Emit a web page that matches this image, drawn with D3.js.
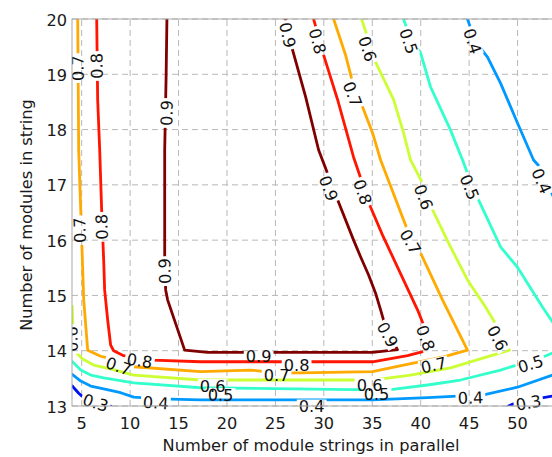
<!DOCTYPE html>
<html><head><meta charset="utf-8">
<script src="https://cdn.jsdelivr.net/npm/d3@7"></script>
<style>
body{margin:0;background:#fff;overflow:hidden}
svg{display:block}
text{font-family:"DejaVu Sans",sans-serif}
</style>
</head><body>
<svg id="c" width="552" height="457"></svg>
<script>
// ---------- data ----------
const levels = [0.3, 0.4, 0.5, 0.6, 0.7, 0.8, 0.9];
const levelColors = ["#0010f0", "#0099ff", "#33ffcc", "#ccff33", "#ffaa00", "#ff1500", "#800000"];
const xTicks = [5, 10, 15, 20, 25, 30, 35, 40, 45, 50];
const yTicks = [13, 14, 15, 16, 17, 18, 19, 20];
const xTitle = "Number of module strings in parallel";
const yTitle = "Number of modules in string";

// contour lines: [strings in parallel, modules in string]
const contour03 = [
  [[4.05,13.36],[4.14,13.34],[4.69,13.23],[5.41,13.12],[6.44,13.06],[7.48,13.03],[7.99,13.0]],
  [[49.07,13.0],[49.79,13.06],[51.34,13.11],[53.6,13.18],[54.5,13.21]]
];
const contour04 = [
  [[4.05,13.57],[4.9,13.45],[5.93,13.36],[7.27,13.31],[9.02,13.24],[10.37,13.16],[13.15,13.13],[17.28,13.11],[35.03,13.11],[40.71,13.15],[43.8,13.18],[46.49,13.20],[49.99,13.34],[53.61,13.56],[54.5,13.62]],
  [[44.83,20],[45.6,19.6],[46.9,19.31],[48.24,18.84],[49.99,18.12],[51.65,17.45],[52.37,17.31],[53.61,16.82],[54.5,16.5]]
];
const contour05 = [
  [[4.05,13.80],[4.9,13.65],[5.93,13.56],[7.27,13.51],[10.37,13.42],[17.28,13.33],[35.03,13.29],[36.7,13.29],[40.71,13.38],[44.11,13.47],[48.24,13.65],[52.68,13.89],[53.61,13.96],[54.5,14.05]],
  [[38.23,20],[39.0,19.6],[39.98,19.39],[41.02,18.77],[43.08,17.99],[44.32,17.45],[44.83,17.21],[45.97,16.73],[48.24,15.88],[49.99,15.51],[52.57,14.79],[53.61,14.52],[54.5,14.3]]
];
const contour06 = [
  [[4.02,14.80],[4.08,14.5],[4.12,14.1],[4.48,13.96],[5.1,13.85],[6.24,13.74],[7.99,13.67],[10.37,13.56],[17.28,13.47],[35.03,13.47],[38.95,13.56],[43.08,13.69],[49.17,14.01],[47.93,14.43],[46.69,14.79],[44.83,15.28],[42.87,15.95],[41.22,16.55],[40.19,17.03],[38.95,17.45],[38.23,17.94],[37.20,18.54],[35.34,19.22],[33.9,20]]
];
const contour07 = [
  [[4.59,20],[4.69,17.63],[4.90,16.55],[5.21,14.92],[5.62,14.01],[6.96,13.90],[7.68,13.87],[10.37,13.71],[17.28,13.62],[22.44,13.65],[25,13.60],[27.6,13.60],[35.03,13.62],[38.23,13.74],[42.36,13.89],[44.83,14.01],[42.25,14.92],[39.98,15.77],[38.64,16.18],[35.86,17.45],[35.03,17.94],[34.0,18.41],[32.86,18.93],[32.24,19.35],[31.01,20]]
];
const contour08 = [
  [[6.55,20],[6.65,18.54],[6.86,17.63],[7.06,16.55],[7.27,15.64],[7.37,15.10],[7.68,14.56],[7.99,14.10],[8.3,14.0],[9.33,13.91],[12.33,13.83],[17.28,13.80],[27.6,13.80],[35.03,13.80],[38.64,13.91],[41.22,14.03],[40.5,14.38],[39.67,14.74],[36.06,16.09],[34.82,16.60],[33.07,17.50],[31.42,18.54],[29.97,19.35],[28.94,20]]
];
const contour09 = [
  [[13.80,20],[13.72,19.0],[13.67,18.54],[13.57,17.63],[13.57,15.64],[13.67,15.10],[13.87,14.92],[15.63,14.01],[18.0,13.97],[27.6,13.97],[35.03,13.97],[37.6,14.02],[36.4,14.41],[35.86,14.74],[35.34,15.04],[34.62,15.37],[33.79,15.70],[33.07,16.0],[31.42,16.73],[29.46,17.63],[28.12,18.59],[26.77,19.44],[26.05,20]]
];

// inline label positions (centre of the text)
const labels03 = [[6.44,13.06],[51.13,13.06]];
const labels04 = [[12.64,13.06],[28.74,12.99],[45.14,13.15],[45.35,19.60],[52.47,17.07]];
const labels05 = [[19.34,13.20],[35.44,13.22],[51.34,13.76],[45.04,16.96],[38.75,19.60]];
const labels06 = [[3.97,14.21],[18.52,13.36],[34.72,13.38],[47.93,14.23],[40.29,16.78],[34.51,19.46]];
const labels07 = [[4.59,19.11],[4.79,16.18],[8.82,13.72],[25.12,13.56],[41.33,13.74],[38.95,15.97],[32.97,18.64]];
const labels08 = [[6.55,19.15],[7.06,16.24],[10.99,13.82],[27.19,13.74],[40.5,14.23],[34.0,16.87],[29.35,19.60]];
const labels09 = [[13.77,18.30],[13.57,15.44],[23.27,13.90],[26.26,19.71],[30.49,16.94],[36.58,14.29]];

const contours = [contour03, contour04, contour05, contour06, contour07, contour08, contour09];
const labelSets = [labels03, labels04, labels05, labels06, labels07, labels08, labels09];

// ---------- drawing ----------
const FS = 16.2;
const svg = d3.select("#c");
const x = d3.scaleLinear().domain([4, 55]).range([72, 566]);
const y = d3.scaleLinear().domain([13, 20]).range([406, 19]);
const X0 = x(4), X1 = x(55), Y0 = y(13), Y1 = y(20);

const defs = svg.append("defs");
defs.append("clipPath").attr("id", "plotclip").append("rect")
  .attr("x", X0).attr("y", Y1).attr("width", X1 - X0).attr("height", Y0 - Y1);
defs.append("clipPath").attr("id", "labelclip").append("rect")
  .attr("x", X0).attr("y", 0).attr("width", X1 - X0).attr("height", 457);

// grid
const grid = svg.append("g").attr("stroke", "#b8b8b8").attr("stroke-width", 1).attr("stroke-dasharray", "6,4").attr("fill", "none");
xTicks.forEach(t => grid.append("line").attr("x1", x(t)).attr("x2", x(t)).attr("y1", Y0).attr("y2", Y1));
yTicks.forEach(t => grid.append("line").attr("x1", X0).attr("x2", X1).attr("y1", y(t)).attr("y2", y(t)));

function normAngle(a) { while (a > 85) a -= 180; while (a <= -95) a += 180; return a; }
function angleAt(px, py, pieces) {
  let best = Infinity, ang = 0;
  pieces.forEach(p => {
    for (let i = 0; i < p.length - 1; i++) {
      const ax = x(p[i][0]), ay = y(p[i][1]), bx = x(p[i+1][0]), by = y(p[i+1][1]);
      const dx = bx - ax, dy = by - ay, L2 = dx*dx + dy*dy || 1;
      let t = ((px - ax)*dx + (py - ay)*dy) / L2; t = Math.max(0, Math.min(1, t));
      const qx = ax + t*dx, qy = ay + t*dy, d = (px-qx)**2 + (py-qy)**2;
      if (d < best) { best = d; ang = Math.atan2(dy, dx) * 180 / Math.PI; }
    }
  });
  return normAngle(ang);
}

// measure label width
const meas = svg.append("text").attr("font-size", FS).text("0.9");
const tw = meas.node().getComputedTextLength();
meas.remove();

const line = d3.line().x(d => x(d[0])).y(d => y(d[1]));
const gLines = svg.append("g").attr("clip-path", "url(#plotclip)");
const gLabels = svg.append("g").attr("clip-path", "url(#labelclip)");

levels.forEach((lv, i) => {
  const pieces = contours[i];
  const labs = labelSets[i].map(d => {
    const px = x(d[0]), py = y(d[1]);
    return { px, py, a: angleAt(px, py, pieces) };
  });
  const mask = defs.append("mask").attr("id", "m" + i).attr("maskUnits", "userSpaceOnUse")
    .attr("x", 0).attr("y", 0).attr("width", 620).attr("height", 457);
  mask.append("rect").attr("x", 0).attr("y", 0).attr("width", 620).attr("height", 457).attr("fill", "#fff");
  labs.forEach(l => mask.append("rect")
    .attr("x", -tw/2 - 2).attr("y", -7).attr("width", tw + 4).attr("height", 14).attr("fill", "#000")
    .attr("transform", `translate(${l.px},${l.py}) rotate(${l.a})`));
  pieces.forEach(p => gLines.append("path").attr("d", line(p))
    .attr("fill", "none").attr("stroke", levelColors[i]).attr("stroke-width", 2.8)
    .attr("stroke-linejoin", "round").attr("stroke-linecap", "round")
    .attr("mask", `url(#m${i})`));
  labs.forEach(l => gLabels.append("text")
    .attr("transform", `translate(${l.px},${l.py}) rotate(${l.a})`)
    .attr("text-anchor", "middle").attr("dy", "0.36em")
    .attr("font-size", FS).attr("fill", "#111").text(d3.format(".1f")(lv)));
});

// axes box
svg.append("rect").attr("x", X0).attr("y", Y1).attr("width", X1 - X0).attr("height", Y0 - Y1)
  .attr("fill", "none").attr("stroke", "#a8a8a8").attr("stroke-width", 1);

// tick labels
const tl = svg.append("g").attr("font-size", FS).attr("fill", "#1a1a1a");
xTicks.forEach(t => tl.append("text").attr("x", x(t)).attr("y", 429).attr("text-anchor", "middle").text(t));
yTicks.forEach(t => tl.append("text").attr("x", 67).attr("y", y(t) + 6.5).attr("text-anchor", "end").text(t));

// titles
svg.append("text").attr("x", 311).attr("y", 451).attr("text-anchor", "middle")
  .attr("font-size", FS).attr("fill", "#1a1a1a").text(xTitle);
svg.append("text").attr("transform", "translate(31.5,215) rotate(-90)").attr("text-anchor", "middle")
  .attr("font-size", FS).attr("fill", "#1a1a1a").text(yTitle);
</script>
</body></html>
